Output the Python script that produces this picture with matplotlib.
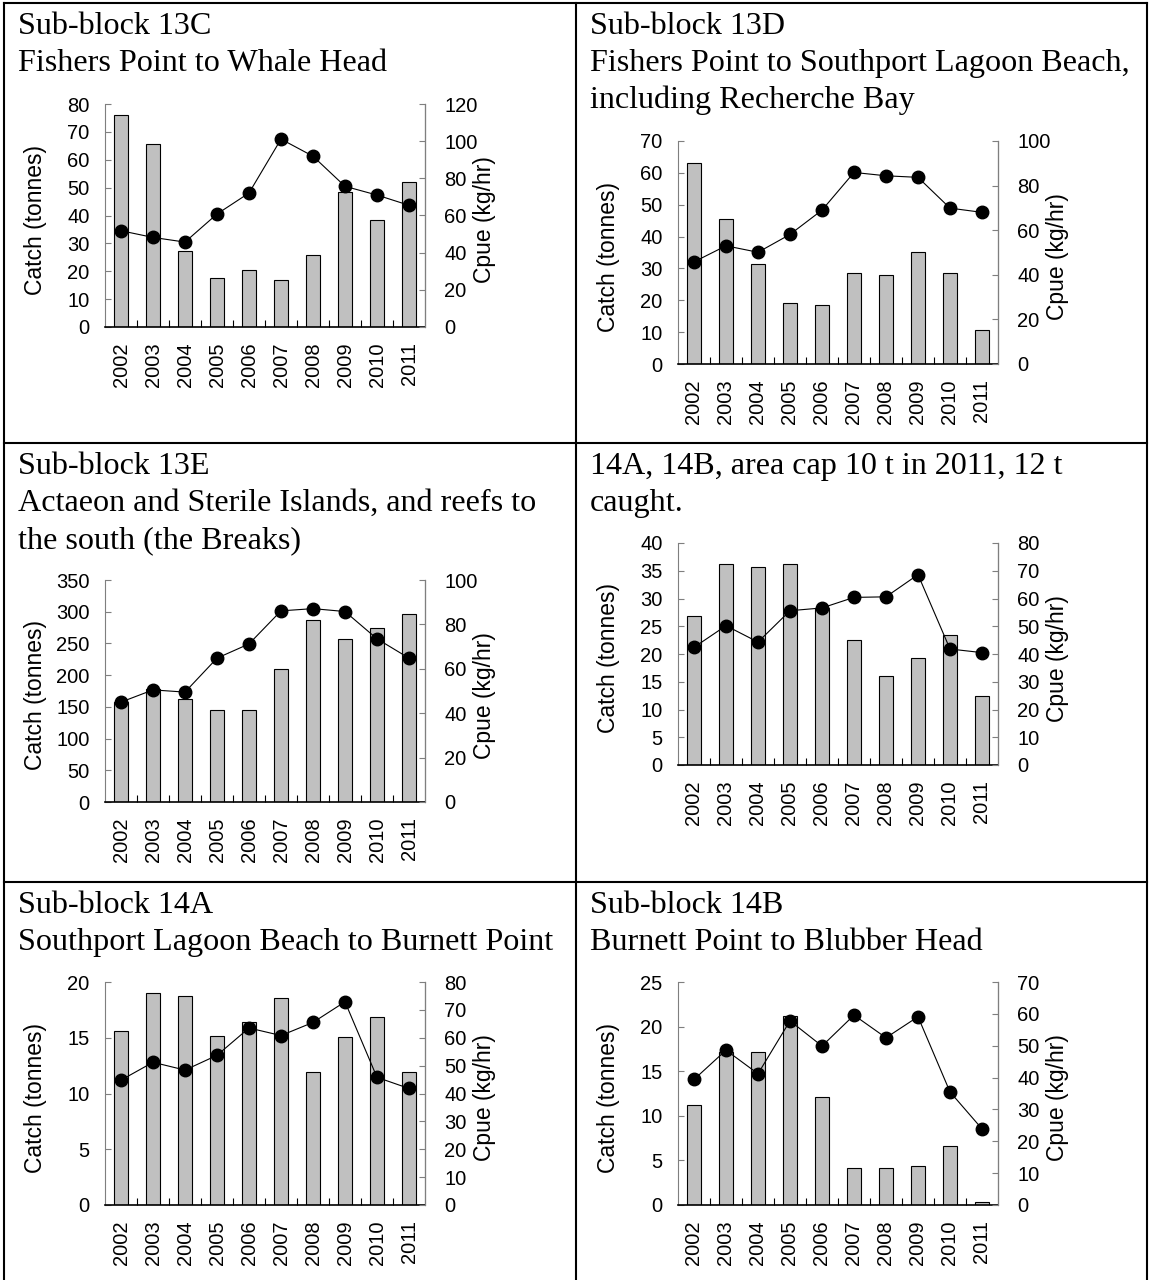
import matplotlib
matplotlib.use('Agg')
from matplotlib import pyplot as plt
from matplotlib.lines import Line2D
import numpy as np

years = ['2002', '2003', '2004', '2005', '2006', '2007', '2008', '2009', '2010', '2011']

# catch (tonnes) and cpue (kg/hr) per sub-block
catch_13c = [75.9, 65.7, 27.1, 17.4, 20.5, 16.7, 25.7, 48.3, 38.3, 51.9]
cpue_13c = [51.8, 48.2, 45.7, 60.8, 72.1, 101.1, 91.9, 75.7, 71.0, 65.5]

catch_13d = [63.2, 45.6, 31.4, 19.1, 18.6, 28.7, 28.0, 35.2, 28.7, 10.7]
cpue_13d = [45.8, 53.0, 50.1, 58.1, 69.0, 85.9, 84.4, 83.7, 69.9, 68.0]

catch_13e = [157, 178, 162.6, 144.8, 144.8, 209.9, 287, 257, 275, 296.4]
cpue_13e = [45.0, 50.5, 49.5, 64.8, 71.2, 86.1, 87.1, 85.8, 73.5, 64.8]

catch_14ab = [26.8, 36.2, 35.7, 36.2, 28.3, 22.6, 16.0, 19.3, 23.4, 12.4]
cpue_14ab = [42.4, 50.2, 44.3, 55.6, 56.6, 60.4, 60.6, 68.6, 41.8, 40.5]

catch_14a = [15.65, 19.0, 18.7, 15.2, 16.4, 18.6, 11.9, 15.05, 16.9, 11.96]
cpue_14a = [44.8, 51.2, 48.4, 53.7, 63.5, 60.8, 65.5, 72.9, 45.8, 41.8]

catch_14b = [11.16, 17.2, 17.15, 21.2, 12.06, 4.12, 4.12, 4.42, 6.67, 0.37]
cpue_14b = [39.4, 48.6, 41.2, 57.8, 49.9, 59.6, 52.5, 59.1, 35.5, 23.9]

titles_13c = ['Sub-block 13C', 'Fishers Point to Whale Head']
titles_13d = ['Sub-block 13D', 'Fishers Point to Southport Lagoon Beach,',
              'including Recherche Bay']
titles_13e = ['Sub-block 13E', 'Actaeon and Sterile Islands, and reefs to',
              'the south (the Breaks)']
titles_14ab = ['14A, 14B, area cap 10 t in 2011, 12 t', 'caught.']
titles_14a = ['Sub-block 14A', 'Southport Lagoon Beach to Burnett Point']
titles_14b = ['Sub-block 14B', 'Burnett Point to Blubber Head']

W, H = 1150, 1280
SANS = 'Liberation Sans'
SERIF = 'Liberation Serif'
TICK_FS = 14.5

fig = plt.figure(figsize=(W / 100, H / 100), dpi=100)


def fig_line(x0, y0, x1, y1):
    fig.add_artist(Line2D([x0 / W, x1 / W], [1 - y0 / H, 1 - y1 / H],
                          color='black', lw=1.5))


def panel(cell, box, titles, catch, cpue, cmax, cstep, pmax, pstep):
    cx, cy = cell
    for i, line in enumerate(titles):
        fig.text((cx + 14) / W, 1 - (cy + 31 + 37 * i) / H, line,
                 family=SERIF, fontsize=23.1, va='baseline', ha='left')

    left, top, right, bottom = box
    ax = fig.add_axes([left / W, 1 - bottom / H, (right - left) / W, (bottom - top) / H])
    x = np.arange(len(years))
    ax.bar(x, catch, width=0.44, color='#c0c0c0', edgecolor='black', linewidth=0.8)
    ax.set_xlim(-0.5, len(years) - 0.5)
    ax.set_ylim(0, cmax)
    ax.set_yticks(np.arange(0, cmax + 0.01, cstep))
    ax.set_xticks(x)
    ax.set_xticklabels(years, rotation=90, family=SANS, fontsize=TICK_FS)
    ax.set_xticks(np.arange(0.5, len(years) - 1, 1), minor=True)
    ax.tick_params(axis='x', which='major', length=0, pad=11)
    ax.tick_params(axis='x', which='minor', direction='in', length=5, width=0.8)
    ax.tick_params(axis='y', direction='in', length=4, width=0.8, pad=11,
                   color='#7f7f7f', labelsize=TICK_FS)
    for lab in ax.get_yticklabels():
        lab.set_family(SANS)
    ax.set_ylabel('Catch (tonnes)', family=SANS, fontsize=16.5)
    ax.yaxis.set_label_coords(-0.18, 0.48)
    ax.spines['top'].set_visible(False)
    ax.spines['left'].set_color('#7f7f7f')
    ax.spines['left'].set_linewidth(0.8)
    ax.spines['bottom'].set_linewidth(1.2)

    ax2 = ax.twinx()
    ax2.plot(x, cpue, color='black', lw=0.8, marker='o', markersize=9)
    ax2.set_ylim(0, pmax)
    ax2.set_yticks(np.arange(0, pmax + 0.01, pstep))
    ax2.tick_params(axis='y', direction='in', length=4, width=0.8, pad=14,
                    color='#7f7f7f', labelsize=TICK_FS)
    for lab in ax2.get_yticklabels():
        lab.set_family(SANS)
    ax2.set_ylabel('Cpue (kg/hr)', family=SANS, fontsize=16.5)
    ax2.yaxis.set_label_coords(1.15, 0.48)
    ax2.spines['top'].set_visible(False)
    ax2.spines['left'].set_visible(False)
    ax2.spines['bottom'].set_visible(False)
    ax2.spines['right'].set_color('#7f7f7f')
    ax2.spines['right'].set_linewidth(0.8)


panel((4, 3), (105, 104, 425, 327), titles_13c, catch_13c, cpue_13c, 80, 10, 120, 20)
panel((576, 3), (678, 141, 998, 364), titles_13d, catch_13d, cpue_13d, 70, 10, 100, 20)
panel((4, 443), (105, 580, 425, 802), titles_13e, catch_13e, cpue_13e, 350, 50, 100, 20)
panel((576, 443), (678, 543, 998, 765), titles_14ab, catch_14ab, cpue_14ab, 40, 5, 80, 10)
panel((4, 882), (105, 982, 425, 1205), titles_14a, catch_14a, cpue_14a, 20, 5, 80, 10)
panel((576, 882), (678, 982, 998, 1205), titles_14b, catch_14b, cpue_14b, 25, 5, 70, 10)

# table borders
fig_line(4, 3, 1147, 3)
fig_line(4, 443, 1147, 443)
fig_line(4, 882, 1147, 882)
fig_line(4, 3, 4, 1280)
fig_line(576, 3, 576, 1280)
fig_line(1147, 3, 1147, 1280)

fig.savefig('out.png', dpi=100)
